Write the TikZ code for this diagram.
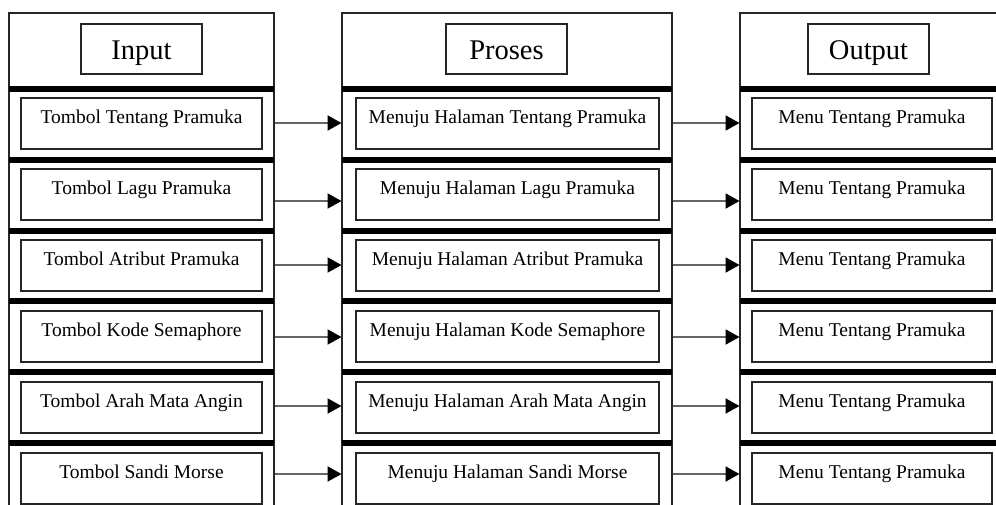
\documentclass[tikz,border=0pt]{standalone}
\usepackage{fontspec}
\setmainfont{Liberation Serif}
\usetikzlibrary{arrows.meta}
\begin{document}
\begin{tikzpicture}[x=1pt,y=-1pt,
  colframe/.style={draw=black!85,line width=1.4pt},
  sepbar/.style={fill=black},
  headbox/.style={draw=black!85,line width=1.4pt,minimum width=121pt,inner sep=0pt,text height=35pt,text depth=15pt,font=\fontsize{28.5}{32}\selectfont},
  itembox/.style={draw=black!85,line width=1.4pt,inner sep=0pt,text height=25pt,text depth=26pt,font=\fontsize{19.5}{22}\selectfont},
  inbox/.style={itembox,minimum width=241pt},
  prbox/.style={itembox,minimum width=303pt},
  outbox/.style={itembox,minimum width=240pt},
  flow/.style={draw=black!60,line width=2pt,-{Triangle[length=14pt,width=15pt,color=black]}}
]
\useasboundingbox (0,0) rectangle (996,504);
\clip (0,0) rectangle (996,504);
% columns
\draw[colframe] (9,13) rectangle (274,530);
\draw[colframe] (342,13) rectangle (672,530);
\draw[colframe] (740,13) rectangle (1004,530);
% headers
\node[headbox] (hin) at (141.5,49) {Input};
\node[headbox] (hpr) at (506.5,49) {Proses};
\node[headbox] (hout) at (868.5,49) {Output};
% separator bars
\foreach \t in {86,157,227.5,298,369,440}{
  \fill[sepbar] (9,\t) rectangle (274,\t+6);
  \fill[sepbar] (342,\t) rectangle (672,\t+6);
  \fill[sepbar] (740,\t) rectangle (1004,\t+6);
}
% rows
\foreach \i/\top/\ay/\a/\b in {
  1/98/123/Tombol Tentang Pramuka/Menuju Halaman Tentang Pramuka,
  2/169/201/Tombol Lagu Pramuka/Menuju Halaman Lagu Pramuka,
  3/240/265/Tombol Atribut Pramuka/Menuju Halaman Atribut Pramuka,
  4/311/337/Tombol Kode Semaphore/Menuju Halaman Kode Semaphore,
  5/382/406/Tombol Arah Mata Angin/Menuju Halaman Arah Mata Angin,
  6/453/474/Tombol Sandi Morse/Menuju Halaman Sandi Morse}{
  \node[inbox] (in\i) at (141.5,\top+25.5) {\a};
  \node[prbox] (pr\i) at (507.5,\top+25.5) {\b};
  \node[outbox] (out\i) at (872,\top+25.5) {Menu Tentang Pramuka};
  \coordinate (inR\i) at (274.7,\ay);
  \coordinate (prL\i) at (341.5,\ay);
  \coordinate (prR\i) at (672.7,\ay);
  \coordinate (outL\i) at (739.5,\ay);
  \draw[flow] (inR\i) -- (prL\i);
  \draw[flow] (prR\i) -- (outL\i);
}
\end{tikzpicture}
\end{document}
